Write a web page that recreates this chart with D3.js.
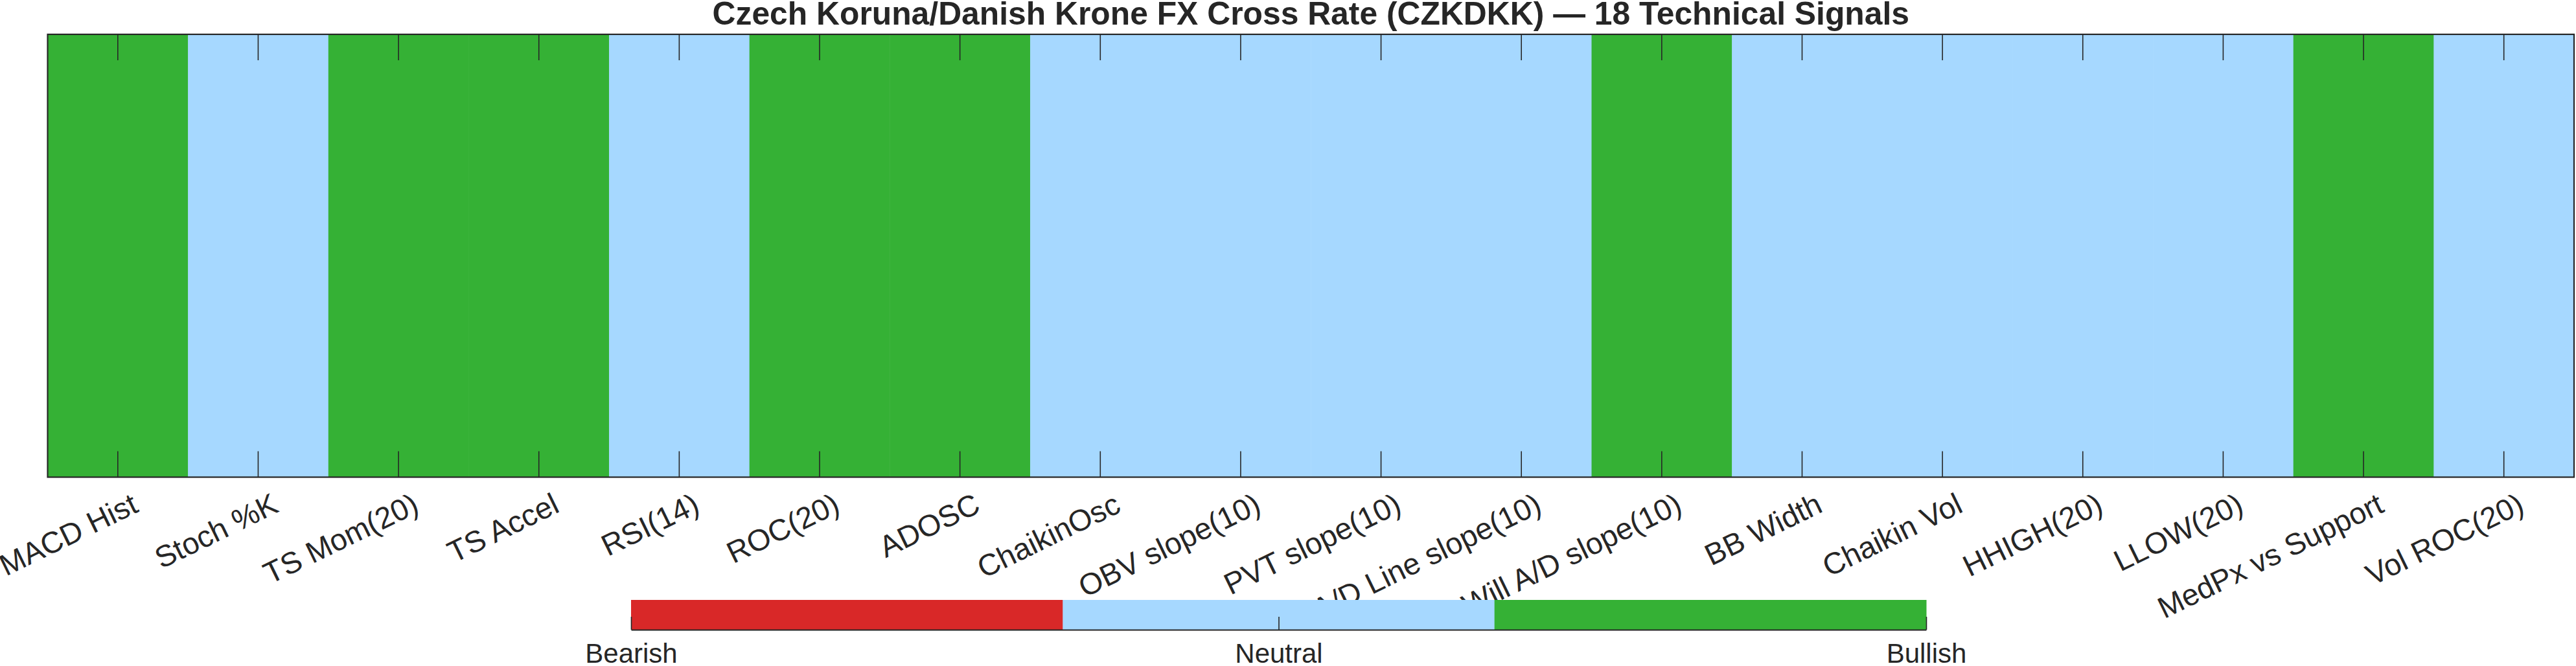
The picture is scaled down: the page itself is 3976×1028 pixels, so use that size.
<!DOCTYPE html>
<html>
<head>
<meta charset="utf-8">
<script src="https://cdn.jsdelivr.net/npm/d3@7"></script>
<style>
  html, body { margin: 0; padding: 0; background: #ffffff; }
  svg { display: block; font-family: "Liberation Sans", Arial, Helvetica, sans-serif; }
</style>
</head>
<body>
<svg id="chart" width="3976" height="1028"></svg>
<script>
// ---- data ----
const chartTitle = "Czech Koruna/Danish Krone FX Cross Rate (CZKDKK) \u2014 18 Technical Signals";
const signalNames = ["MACD Hist", "Stoch %K", "TS Mom(20)", "TS Accel", "RSI(14)", "ROC(20)", "ADOSC",
  "ChaikinOsc", "OBV slope(10)", "PVT slope(10)", "A/D Line slope(10)", "Will A/D slope(10)",
  "BB Width", "Chaikin Vol", "HHIGH(20)", "LLOW(20)", "MedPx vs Support", "Vol ROC(20)"];
// -1 = Bearish, 0 = Neutral, 1 = Bullish
const signalStates = [1, 0, 1, 1, 0, 1, 1, 0, 0, 0, 0, 1, 0, 0, 0, 0, 1, 0];
const legendValues = [-1, 0, 1];
const legendLabels = ["Bearish", "Neutral", "Bullish"];
const stateColors = ["#D92828", "#A6D8FF", "#35B135"];

// ---- layout ----
const W = 3976, H = 1028;
const plot = { left: 73.5, right: 3973, top: 53, bottom: 736.5 };
const cbar = { left: 974, right: 2973, top: 926, bottom: 972 };
const axisColor = "#262626";
const tickFont = 46.5, cbFont = 42;

const svg = d3.select("#chart");

const x = d3.scaleBand().domain(signalNames).range([plot.left, plot.right]).padding(0);
const y = d3.scaleBand().domain(["row"]).range([plot.top, plot.bottom]).padding(0);
const color = d3.scaleOrdinal().domain(legendValues).range(stateColors);

// heatmap cells
svg.append("g").selectAll("rect")
  .data(signalNames.map((n, i) => ({ name: n, v: signalStates[i] })))
  .join("rect")
  .attr("x", d => x(d.name))
  .attr("y", y("row"))
  .attr("width", x.bandwidth() + 0.5)
  .attr("height", y.bandwidth())
  .attr("fill", d => color(d.v));

// ticks (inward), top and bottom
const tickLen = 40;
const axB = svg.append("g").attr("transform", `translate(0,${plot.bottom})`)
  .call(d3.axisBottom(x).tickSize(-tickLen).tickSizeOuter(0).tickFormat(""));
const axT = svg.append("g").attr("transform", `translate(0,${plot.top})`)
  .call(d3.axisTop(x).tickSize(-tickLen).tickSizeOuter(0).tickFormat(""));
[axB, axT].forEach(g => {
  g.selectAll(".tick line").attr("stroke", axisColor).attr("stroke-width", 1.6);
  g.select(".domain").remove();
});

// box
svg.append("rect")
  .attr("x", plot.left).attr("y", plot.top)
  .attr("width", plot.right - plot.left).attr("height", plot.bottom - plot.top)
  .attr("fill", "none").attr("stroke", axisColor).attr("stroke-width", 2.2);

// rotated tick labels
const labelG = svg.append("g");
labelG.selectAll("text")
  .data(signalNames)
  .join("text")
  .attr("transform", d => `translate(${x(d) + x.bandwidth() / 2 + 34},789) rotate(-26)`)
  .attr("text-anchor", "end")
  .attr("font-size", tickFont)
  .attr("fill", "#262626")
  .text(d => d);

// title (sized to the reference's width)
const titleText = svg.append("text")
  .attr("x", (plot.left + plot.right) / 2)
  .attr("y", 38)
  .attr("text-anchor", "middle")
  .attr("font-size", 100)
  .attr("font-weight", "bold")
  .attr("fill", "#262626")
  .text(chartTitle);
const tl = titleText.node().getComputedTextLength();
titleText.attr("font-size", Math.min(52, 100 * 1848 / tl));

// ---- colorbar ----
const cbBand = d3.scaleBand().domain(legendValues).range([cbar.left, cbar.right]).padding(0);
const cbLin = d3.scaleLinear().domain([-1, 1]).range([cbar.left, cbar.right]);
const cbG = svg.append("g");
cbG.selectAll("rect")
  .data(legendValues)
  .join("rect")
  .attr("x", d => cbBand(d))
  .attr("y", cbar.top)
  .attr("width", cbBand.bandwidth() + 0.5)
  .attr("height", cbar.bottom - cbar.top)
  .attr("fill", d => color(d));

const cbAx = cbG.append("g").attr("transform", `translate(0,${cbar.bottom})`)
  .call(d3.axisBottom(cbLin).tickValues(legendValues).tickSize(-20).tickSizeOuter(0)
    .tickFormat((d, i) => legendLabels[i]));
cbAx.select(".domain").attr("stroke", axisColor).attr("stroke-width", 2.2);
cbAx.selectAll(".tick line").attr("stroke", axisColor).attr("stroke-width", 1.6);
cbAx.selectAll(".tick text")
  .attr("y", 51).attr("dy", 0)
  .attr("font-size", cbFont)
  .attr("font-family", "Liberation Sans, Arial, sans-serif")
  .attr("fill", "#262626");
</script>
</body>
</html>
